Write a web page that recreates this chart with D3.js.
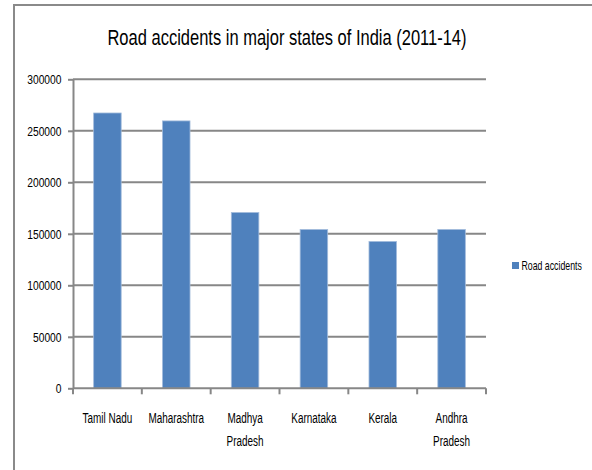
<!DOCTYPE html>
<html>
<head>
<meta charset="utf-8">
<script src="https://cdn.jsdelivr.net/npm/d3@7"></script>
<style>
body { margin: 0; background: white; }
text { font-family: "Liberation Sans", Arial, sans-serif; fill: #000; }
.title { font-size: 22px; }
.axis { font-size: 13px; }
.cat { font-size: 14px; }
.legendText { font-size: 12px; }
</style>
</head>
<body>
<div id="drawing"></div>
<script>
"use strict"

/**** Configuration ****/
let svgWidth = 592
let svgHeight = 470

let plotLeft = 73
let plotRight = 486
let plotTop = 79.3
let plotBottom = 388.3

/* the reference uses a narrow font, so text is squeezed sideways */
let squeeze = 0.73

/**** DATA ****/
let states = [["Tamil Nadu"], ["Maharashtra"], ["Madhya", "Pradesh"], ["Karnataka"], ["Kerala"], ["Andhra", "Pradesh"]]
let accidents = [267300, 259600, 170700, 154200, 142600, 154200]
let yTicks = [0, 50000, 100000, 150000, 200000, 250000, 300000]
let seriesName = "Road accidents"

let dataset = states.map((s, i) => ({name: s.join(" "), lines: s, value: accidents[i]}))

/**** CANVAS ****/
let svg = d3.select("#drawing")
.append("svg")
.attr("width", svgWidth)
.attr("height", svgHeight)

/* outer chart border, only left and top visible */
svg.append("rect")
.attr("x", 14)
.attr("y", 5)
.attr("width", 700)
.attr("height", 600)
.attr("fill", "none")
.attr("stroke", "#8a8a8a")
.attr("stroke-width", 2)

/**** SCALES ****/
let bandScale = d3.scaleBand()
.domain(dataset.map(d => d.name))
.range([plotLeft, plotRight])

let barWidth = bandScale.bandwidth() / 2.5

let yScale = d3.scaleLinear()
.domain([0, 300000])
.range([plotBottom, plotTop])

/**** GRIDLINES ****/
svg.selectAll("line.grid")
.data(yTicks.filter(t => t > 0))
.join("line")
.attr("class", "grid")
.attr("x1", plotLeft)
.attr("x2", plotRight)
.attr("y1", d => yScale(d))
.attr("y2", d => yScale(d))
.attr("stroke", "#878787")
.attr("stroke-width", 2)

/**** BARS ****/
svg.selectAll("rect.bar")
.data(dataset)
.join("rect")
.attr("class", "bar")
.attr("x", d => bandScale(d.name) + (bandScale.bandwidth() - barWidth) / 2)
.attr("width", barWidth)
.attr("y", d => yScale(d.value))
.attr("height", d => yScale(0) - yScale(d.value))
.attr("fill", "#4f81bd")
.attr("stroke", "#a3bcdc")
.attr("stroke-width", 0.8)

/**** AXES ****/
let yAxis = d3.axisLeft(yScale)
.tickValues(yTicks)
.tickSize(5)
.tickSizeOuter(0)
.tickFormat(d3.format("d"))

let yG = svg.append("g")
.attr("transform", `translate(${plotLeft},0)`)
.call(yAxis)

yG.select(".domain").attr("stroke", "#878787").attr("stroke-width", 2)
yG.selectAll(".tick line").attr("stroke", "#878787").attr("stroke-width", 2)
yG.selectAll(".tick text")
.attr("class", "axis")
.attr("fill", "#000")
.attr("x", 0)
.attr("dy", "0.35em")
.attr("transform", `translate(-11.5,0) scale(0.79,1)`)

/* x axis line with ticks at band boundaries */
svg.append("line")
.attr("x1", plotLeft)
.attr("x2", plotRight)
.attr("y1", plotBottom)
.attr("y2", plotBottom)
.attr("stroke", "#878787")
.attr("stroke-width", 2)

let boundaries = dataset.map(d => bandScale(d.name)).concat([plotRight])

svg.selectAll("line.xtick")
.data(boundaries)
.join("line")
.attr("class", "xtick")
.attr("x1", d => d)
.attr("x2", d => d)
.attr("y1", plotBottom)
.attr("y2", plotBottom + 6)
.attr("stroke", "#878787")
.attr("stroke-width", 2)

/* category labels */
let labels = svg.selectAll("text.cat")
.data(dataset)
.join("text")
.attr("class", "cat")
.attr("text-anchor", "middle")
.attr("transform", d => `translate(${bandScale(d.name) + bandScale.bandwidth() / 2},0) scale(0.71,1)`)

labels.selectAll("tspan")
.data(d => d.lines)
.join("tspan")
.attr("x", 0)
.attr("y", (d, i) => 422.7 + i * 23.5)
.text(d => d)

/**** TITLE ****/
svg.append("text")
.attr("class", "title")
.attr("text-anchor", "middle")
.attr("transform", `translate(287,45) scale(0.75,1)`)
.text("Road accidents in major states of India (2011-14)")

/**** LEGEND ****/
let legend = svg.append("g")
.attr("transform", "translate(512,262)")

legend.append("rect")
.attr("width", 7)
.attr("height", 7)
.attr("fill", "#4f81bd")

legend.append("text")
.attr("class", "legendText")
.attr("transform", `translate(9.5,7.8) scale(${squeeze},1)`)
.text(seriesName)
</script>
</body>
</html>
